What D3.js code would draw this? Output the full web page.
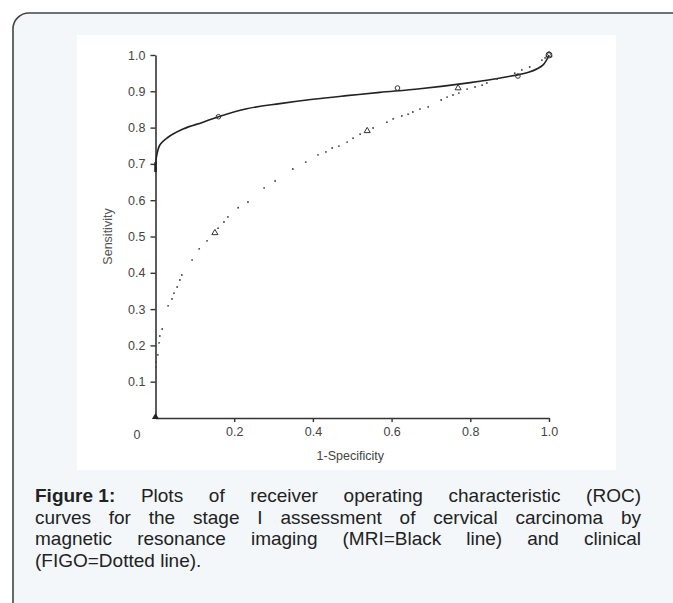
<!DOCTYPE html>
<html><head><meta charset="utf-8">
<script src="https://cdn.jsdelivr.net/npm/d3@7"></script>
<style>html,body{margin:0;padding:0;background:#fff;}svg{display:block;}</style>
</head><body>
<svg id="c" width="673" height="603"></svg>
<script>
// ---- data ----
const xTicks = [0.2, 0.4, 0.6, 0.8, 1.0];
const yTicks = [0.1, 0.2, 0.3, 0.4, 0.5, 0.6, 0.7, 0.8, 0.9, 1.0];
const mriX = [0, 0.002, 0.011, 0.03, 0.07, 0.121, 0.16, 0.232, 0.316, 0.40, 0.486, 0.57, 0.672, 0.80, 0.883, 0.95, 0.985, 1.0];
const mriY = [0.678, 0.716, 0.752, 0.772, 0.796, 0.815, 0.83, 0.852, 0.866, 0.878, 0.888, 0.897, 0.907, 0.924, 0.938, 0.953, 0.973, 1.0];
const mriMarkX = [0.16, 0.615, 0.921, 1.0];
const mriMarkY = [0.83, 0.909, 0.942, 1.0];
const figoX = [0.001, 0.001, 0.006, 0.009, 0.011, 0.017, 0.032, 0.042, 0.047, 0.055, 0.062, 0.067, 0.093, 0.111, 0.131,
  0.159, 0.174, 0.184, 0.210, 0.235, 0.276, 0.304, 0.349, 0.382, 0.413, 0.433, 0.449, 0.466, 0.487, 0.502, 0.520, 0.553,
  0.588, 0.604, 0.626, 0.642, 0.654, 0.672, 0.693, 0.726, 0.741, 0.756, 0.771, 0.792, 0.812, 0.830, 0.842, 0.868, 0.913,
  0.931, 0.951, 0.982, 0.990];
const figoY = [0.14, 0.154, 0.174, 0.207, 0.226, 0.245, 0.309, 0.328, 0.344, 0.361, 0.380, 0.394, 0.435, 0.466, 0.488,
  0.523, 0.540, 0.554, 0.579, 0.595, 0.634, 0.653, 0.686, 0.705, 0.725, 0.733, 0.744, 0.749, 0.760, 0.771, 0.782, 0.799,
  0.815, 0.824, 0.832, 0.837, 0.843, 0.851, 0.857, 0.876, 0.884, 0.890, 0.895, 0.906, 0.912, 0.917, 0.923, 0.934, 0.950,
  0.959, 0.967, 0.986, 0.992];
const figoMarkX = [0.151, 0.538, 0.769, 1.0];
const figoMarkY = [0.51, 0.791, 0.909, 1.0];
const xLabel = "1-Specificity";
const yLabel = "Sensitivity";
const captionBold = "Figure 1:";
const captionLines = [
  "Plots of receiver operating characteristic (ROC)",
  "curves for the stage I assessment of cervical carcinoma by",
  "magnetic resonance imaging (MRI=Black line) and clinical",
  "(FIGO=Dotted line)."
];

// ---- drawing ----
const svg = d3.select("#c");
const font = "'Liberation Sans', Arial, sans-serif";

svg.append("rect").attr("x", 13).attr("y", 13).attr("width", 680).attr("height", 610)
  .attr("rx", 16).attr("fill", "#f3f7fa").attr("stroke", "#444").attr("stroke-width", 1.6);
svg.append("rect").attr("x", 77).attr("y", 35).attr("width", 539).attr("height", 435).attr("fill", "#fff");

const x = d3.scaleLinear().domain([0, 1]).range([155.5, 549]);
const y = d3.scaleLinear().domain([0, 1]).range([418, 55]);

const axColor = "#333";
const tickFont = "12.5px";
const gx = svg.append("g").attr("transform", "translate(0,418)")
  .call(d3.axisBottom(x).tickValues(xTicks).tickFormat(d3.format(".1f")).tickSize(4).tickSizeOuter(0).tickPadding(5));
const gy = svg.append("g").attr("transform", "translate(155.5,0)")
  .call(d3.axisLeft(y).tickValues(yTicks).tickFormat(d3.format(".1f")).tickSize(5).tickSizeOuter(0).tickPadding(5));
[gx, gy].forEach(g => {
  g.select(".domain").attr("stroke", axColor).attr("stroke-width", 1.6);
  g.selectAll(".tick line").attr("stroke", axColor).attr("stroke-width", 1.4);
  g.selectAll(".tick text").attr("fill", "#444").style("font-family", font).style("font-size", tickFont);
});
svg.append("text").attr("x", 137).attr("y", 439).attr("text-anchor", "middle")
  .style("font-family", font).style("font-size", tickFont).attr("fill", "#444").text("0");

svg.append("text").attr("x", x(0.5) - 2).attr("y", 460).attr("text-anchor", "middle")
  .style("font-family", font).style("font-size", "12.5px").attr("fill", "#444").text(xLabel);
svg.append("text").attr("transform", `translate(112,${y(0.5)}) rotate(-90)`).attr("text-anchor", "middle")
  .style("font-family", font).style("font-size", "12.5px").attr("fill", "#555").text(yLabel);

// MRI line
const mri = mriX.map((v, i) => [v, mriY[i]]);
svg.append("path").datum(mri)
  .attr("d", d3.line().x(d => x(d[0])).y(d => y(d[1])).curve(d3.curveCatmullRom.alpha(0.5)))
  .attr("fill", "none").attr("stroke", "#222").attr("stroke-width", 1.6);
svg.append("line").attr("x1", x(0)).attr("x2", x(0)).attr("y1", y(0.678)).attr("y2", y(0.705))
  .attr("stroke", "#222").attr("stroke-width", 2.4);

// FIGO dots
const figo = figoX.map((v, i) => [v, figoY[i]]);
svg.selectAll(".fd").data(figo).enter().append("circle")
  .attr("cx", d => x(d[0])).attr("cy", d => y(d[1])).attr("r", 0.95).attr("fill", "#444");

// markers
svg.selectAll(".mm").data(mriMarkX.map((v, i) => [v, mriMarkY[i]])).enter().append("circle")
  .attr("cx", d => x(d[0])).attr("cy", d => y(d[1])).attr("r", (d, i) => i === 3 ? 3 : 2.3)
  .attr("fill", "none").attr("stroke", "#333").attr("stroke-width", 1);
const tri = d3.symbol().type(d3.symbolTriangle).size(16);
svg.selectAll(".fm").data(figoMarkX.map((v, i) => [v, figoMarkY[i]])).enter().append("path")
  .attr("d", tri).attr("transform", d => `translate(${x(d[0])},${y(d[1])})`)
  .attr("fill", "none").attr("stroke", "#333").attr("stroke-width", 1);
svg.append("path").attr("d", d3.symbol().type(d3.symbolTriangle).size(22))
  .attr("transform", `translate(${x(0)},${y(0) - 1})`).attr("fill", "#222");

// caption (justified)
const capLeft = 35, capRight = 641, lineY0 = 502, lineH = 21.7, capSize = 19;
captionLines.forEach((ln, li) => {
  const words = (li === 0 ? [captionBold] : []).concat(ln.split(" "));
  const g = svg.append("g");
  const items = words.map((w, wi) => {
    const t = g.append("text").attr("y", lineY0 + li * lineH)
      .style("font-family", font).style("font-size", capSize + "px").attr("fill", "#222")
      .style("font-weight", (li === 0 && wi === 0) ? "bold" : "normal").text(w);
    return { t, w: t.node().getComputedTextLength() };
  });
  const total = d3.sum(items, d => d.w);
  const last = li === captionLines.length - 1;
  const gap = last ? capSize * 0.28 : (capRight - capLeft - total) / (items.length - 1);
  let cx = capLeft;
  items.forEach(it => { it.t.attr("x", cx); cx += it.w + gap; });
});
</script>
</body></html>
